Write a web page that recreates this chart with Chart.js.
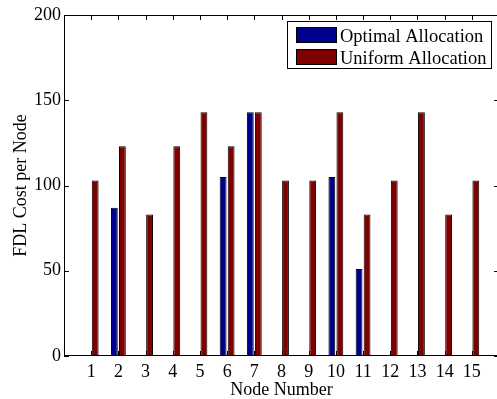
<!DOCTYPE html>
<html>
<head>
<meta charset="utf-8">
<script src="https://cdn.jsdelivr.net/npm/chart.js@4.4.1/dist/chart.umd.min.js"></script>
<style>
  html, body { margin: 0; padding: 0; overflow: hidden; background: #fff; }
  canvas { display: block; }
</style>
</head>
<body>
<canvas id="chart" width="500" height="399"></canvas>
<script>
// values
const nodes = ['1', '2', '3', '4', '5', '6', '7', '8', '9', '10', '11', '12', '13', '14', '15'];
const optimalCost = [0, 87, 0, 0, 0, 105, 143, 0, 0, 105, 51, 0, 0, 0, 0];
const uniformCost = [103, 123, 83, 123, 143, 123, 143, 103, 103, 143, 83, 103, 143, 83, 103];
const yTicks = [0, 50, 100, 150, 200];

const serif = "'Liberation Serif', 'Times New Roman', serif";

// x limits run from 0 to 16, so pad the category list with empty slots
const xLabels = [''].concat(nodes, ['']);
const pad = arr => [null].concat(arr, [null]);

// MATLAB style box: full frame, inward ticks, legend in the top right corner
const matlabFrame = {
  id: 'matlabFrame',
  afterDatasetsDraw(chart) {
    const { ctx, chartArea: a, scales: { x, y } } = chart;
    const tick = 5;
    ctx.save();
    ctx.strokeStyle = '#000';
    ctx.lineWidth = 1;
    ctx.strokeRect(a.left + 0.5, a.top + 0.5, a.right - a.left - 1, a.bottom - a.top - 1);
    ctx.beginPath();
    nodes.forEach((n, i) => {
      const px = Math.round(x.getPixelForValue(i + 1)) + 0.5;
      ctx.moveTo(px, a.bottom); ctx.lineTo(px, a.bottom - tick);
      ctx.moveTo(px, a.top); ctx.lineTo(px, a.top + tick);
    });
    yTicks.forEach(v => {
      const py = Math.round(y.getPixelForValue(v)) + 0.5;
      ctx.moveTo(a.left, py); ctx.lineTo(a.left + tick, py);
      ctx.moveTo(a.right, py); ctx.lineTo(a.right - tick, py);
    });
    ctx.stroke();

    // legend box
    const bx = 287.5, by = 21.5, bw = 204, bh = 47;
    ctx.fillStyle = '#fff';
    ctx.fillRect(bx, by, bw, bh);
    ctx.strokeRect(bx, by, bw, bh);
    ctx.font = '18.5px ' + serif;
    ctx.textBaseline = 'alphabetic';
    chart.data.datasets.forEach((ds, i) => {
      const ry = 27 + i * 22;
      ctx.fillStyle = ds.backgroundColor;
      ctx.fillRect(296, ry, 41, 16);
      ctx.strokeRect(296.5, ry + 0.5, 40, 15);
      ctx.fillStyle = '#000';
      ctx.fillText(ds.label, 340, ry + 15);
    });
    ctx.restore();
  }
};

new Chart(document.getElementById('chart'), {
  type: 'bar',
  data: {
    labels: xLabels,
    datasets: [
      {
        label: 'Optimal Allocation',
        data: pad(optimalCost),
        backgroundColor: 'rgb(0, 0, 143)',
        borderColor: '#000',
        borderWidth: 1
      },
      {
        label: 'Uniform Allocation',
        data: pad(uniformCost),
        backgroundColor: 'rgb(128, 0, 0)',
        borderColor: '#000',
        borderWidth: 1
      }
    ]
  },
  options: {
    responsive: false,
    animation: false,
    categoryPercentage: 0.59,
    barPercentage: 0.85,
    layout: { padding: { top: 15, right: 1, left: 0, bottom: 0 } },
    plugins: {
      legend: { display: false },
      tooltip: { enabled: false }
    },
    scales: {
      x: {
        type: 'category',
        offset: false,
        grid: { display: false, drawTicks: false },
        border: { display: false },
        ticks: {
          color: '#000',
          font: { family: serif, size: 18 },
          padding: 5,
          autoSkip: false,
          maxRotation: 0
        },
        title: {
          display: true,
          text: 'Node Number',
          color: '#000',
          font: { family: serif, size: 18, lineHeight: 1 },
          padding: 0
        },
        afterFit(scale) {
          scale.height = 43;
          scale.paddingLeft = 0;
          scale.paddingRight = 0;
        }
      },
      y: {
        min: 0,
        max: 200,
        grid: { display: false, drawTicks: false },
        border: { display: false },
        ticks: {
          stepSize: 50,
          color: '#000',
          font: { family: serif, size: 18 },
          padding: 3
        },
        title: {
          display: true,
          text: 'FDL Cost per Node',
          color: '#000',
          font: { family: serif, size: 18, lineHeight: 1 },
          padding: { top: 12, bottom: 0 }
        },
        afterFit(scale) { scale.width = 64; }
      }
    }
  },
  plugins: [matlabFrame]
});
</script>
</body>
</html>
